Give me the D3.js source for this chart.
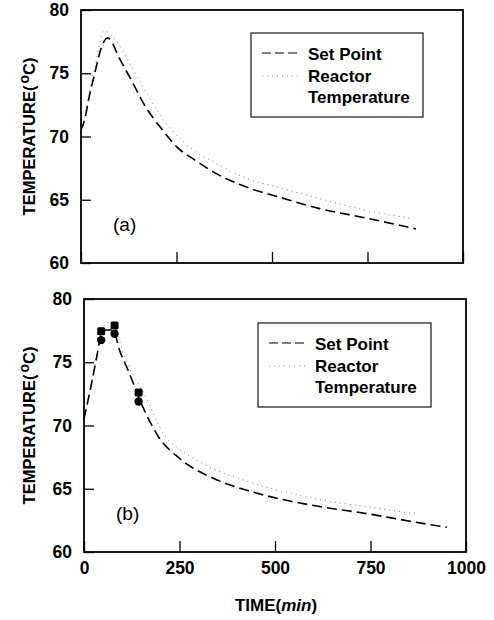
<!DOCTYPE html>
<html>
<head>
<meta charset="utf-8">
<script src="https://cdn.jsdelivr.net/npm/d3@7"></script>
<style>
body { margin: 0; background: #fff; }
text { font-family: "Liberation Sans", Arial, sans-serif; }
</style>
</head>
<body>
<script>
// panel (a)
const timeSetA = [0, 10, 22, 36, 53, 62, 69, 78, 97, 131, 166, 210, 250, 300, 346, 433, 520, 625, 747, 877];
const tempSetA = [70.5, 71.4, 73.2, 75.0, 77.0, 77.6, 77.8, 77.6, 76.4, 74.5, 72.5, 70.65, 69.2, 68.1, 67.2, 66.0, 65.2, 64.3, 63.55, 62.7];
const timeReacA = [0, 10, 22, 36, 50, 58, 66, 80, 105, 144, 184, 227, 271, 300, 346, 433, 520, 625, 755, 860];
const tempReacA = [70.5, 71.6, 73.5, 75.4, 77.5, 78.3, 78.3, 78.0, 77.0, 74.9, 72.8, 70.9, 69.5, 68.8, 68.0, 66.7, 65.95, 65.1, 64.1, 63.55];

// panel (b)
const timeSetB = [0, 19, 35, 45, 52, 76, 93, 115, 158, 193, 250, 337, 424, 512, 616, 747, 850, 950];
const tempSetB = [70.5, 73.2, 75.7, 77.3, 77.55, 77.55, 75.95, 74.4, 71.2, 69.2, 67.4, 65.85, 64.9, 64.2, 63.6, 63.0, 62.45, 61.95];
const timeReacB = [0, 20, 36, 50, 63, 78, 110, 158, 211, 259, 337, 416, 486, 625, 760, 870];
const tempReacB = [70.5, 73.5, 76.0, 77.7, 78.15, 77.9, 75.1, 72.5, 69.2, 67.95, 66.6, 65.7, 65.05, 64.1, 63.5, 63.0];

// measured points in (b)
const timeSquares = [45, 80, 143];
const tempSquares = [77.45, 77.9, 72.6];
const timeCircles = [45, 80, 143];
const tempCircles = [76.75, 77.25, 71.9];

const yTicks = [60, 65, 70, 75, 80];
const xTicks = [0, 250, 500, 750, 1000];
const legendLabels = ["Set Point", "Reactor", "Temperature"];

var svg = d3.select("body").append("svg")
    .attr("width", 494)
    .attr("height", 620);

function zip(ts, vs) {
    return ts.map(function(t, i) { return [t, vs[i]]; });
}

function drawPanel(box, setData, reacData, label, showXLabels, legendBox) {
    var x = d3.scaleLinear().domain([0, 1000]).range([box.left, box.right]);
    var y = d3.scaleLinear().domain([60, 80]).range([box.bottom, box.top]);
    var g = svg.append("g");

    var line = d3.line()
        .x(function(d) { return x(d[0]); })
        .y(function(d) { return y(d[1]); })
        .curve(d3.curveMonotoneX);

    g.append("path")
        .datum(reacData)
        .attr("d", line)
        .attr("fill", "none")
        .attr("stroke", "#777")
        .attr("stroke-width", 1)
        .attr("stroke-dasharray", "1,4");

    g.append("path")
        .datum(setData)
        .attr("d", line)
        .attr("fill", "none")
        .attr("stroke", "#000")
        .attr("stroke-width", 1.6)
        .attr("stroke-dasharray", "10,5");

    // frame
    g.append("rect")
        .attr("x", box.left)
        .attr("y", box.top)
        .attr("width", box.right - box.left)
        .attr("height", box.bottom - box.top)
        .attr("fill", "none")
        .attr("stroke", "#000")
        .attr("stroke-width", 1.8);

    // y axis, ticks inside
    var yAxis = d3.axisLeft(y).tickValues(yTicks).tickSizeInner(-10).tickSizeOuter(0).tickPadding(12);
    var ya = g.append("g").attr("transform", "translate(" + box.left + ",0)").call(yAxis);
    ya.select(".domain").remove();
    ya.selectAll("line").attr("stroke-width", 1.3);
    ya.selectAll("text")
        .attr("font-size", 17.5)
        .attr("font-weight", "bold")
        .attr("font-family", "Liberation Sans, Arial, sans-serif");

    // x axis, ticks inside
    var xAxis = d3.axisBottom(x).tickValues(xTicks).tickFormat(d3.format("d"))
        .tickSizeInner(-11).tickSizeOuter(0).tickPadding(10);
    var xa = g.append("g").attr("transform", "translate(0," + box.bottom + ")").call(xAxis);
    xa.select(".domain").remove();
    xa.selectAll("line").attr("stroke-width", 1.3);
    xa.selectAll("text")
        .attr("font-size", 17.5)
        .attr("font-weight", "bold")
        .attr("font-family", "Liberation Sans, Arial, sans-serif")
        .attr("opacity", showXLabels ? 1 : 0);

    // y title
    var cy = (box.top + box.bottom) / 2;
    var yt = g.append("text")
        .attr("transform", "translate(35," + cy + ") rotate(-90)")
        .attr("text-anchor", "middle")
        .attr("font-size", 16.5)
        .attr("font-weight", "bold");
    yt.append("tspan").text("TEMPERATURE(");
    yt.append("tspan").attr("dx", 2).attr("dy", -6).attr("font-size", 14).text("o");
    yt.append("tspan").attr("dy", 6).text("C)");

    g.append("text")
        .attr("x", box.left + 32)
        .attr("y", box.bottom - 32)
        .attr("font-size", 19)
        .text(label);

    // legend
    g.append("rect")
        .attr("x", legendBox.x)
        .attr("y", legendBox.y)
        .attr("width", legendBox.w)
        .attr("height", legendBox.h)
        .attr("fill", "#fff")
        .attr("stroke", "#000")
        .attr("stroke-width", 1.1);
    g.append("line")
        .attr("x1", legendBox.x + 11).attr("x2", legendBox.x + 50)
        .attr("y1", legendBox.y + 20).attr("y2", legendBox.y + 20)
        .attr("stroke", "#000").attr("stroke-width", 1.2)
        .attr("stroke-dasharray", "9,4");
    g.append("line")
        .attr("x1", legendBox.x + 11).attr("x2", legendBox.x + 50)
        .attr("y1", legendBox.y + 43).attr("y2", legendBox.y + 43)
        .attr("stroke", "#999").attr("stroke-width", 1)
        .attr("stroke-dasharray", "1,4");
    g.selectAll(".leg")
        .data(legendLabels)
        .enter()
        .append("text")
        .attr("x", legendBox.x + 57)
        .attr("y", function(d, i) { return legendBox.y + 27 + i * 21.5; })
        .attr("font-size", 17)
        .attr("font-weight", "bold")
        .text(function(d) { return d; });

    return { x: x, y: y, g: g };
}

drawPanel({ left: 81, right: 463, top: 10, bottom: 263 },
    zip(timeSetA, tempSetA), zip(timeReacA, tempReacA), "(a)", false,
    { x: 251, y: 33, w: 172, h: 84 });

var pb = drawPanel({ left: 84, right: 466, top: 299, bottom: 552 },
    zip(timeSetB, tempSetB), zip(timeReacB, tempReacB), "(b)", true,
    { x: 258, y: 323, w: 173, h: 84 });

pb.g.selectAll(".sq")
    .data(zip(timeSquares, tempSquares))
    .enter()
    .append("rect")
    .attr("x", function(d) { return pb.x(d[0]) - 4; })
    .attr("y", function(d) { return pb.y(d[1]) - 4; })
    .attr("width", 8)
    .attr("height", 8)
    .attr("rx", 1.5)
    .attr("fill", "#000");

pb.g.selectAll(".ci")
    .data(zip(timeCircles, tempCircles))
    .enter()
    .append("circle")
    .attr("cx", function(d) { return pb.x(d[0]); })
    .attr("cy", function(d) { return pb.y(d[1]); })
    .attr("r", 4.2)
    .attr("fill", "#000");

// x title
var xt = svg.append("text")
    .attr("x", 276)
    .attr("y", 611)
    .attr("text-anchor", "middle")
    .attr("font-size", 17)
    .attr("font-weight", "bold");
xt.append("tspan").text("TIME(");
xt.append("tspan").attr("font-style", "italic").text("min");
xt.append("tspan").text(")");
</script>
</body>
</html>
